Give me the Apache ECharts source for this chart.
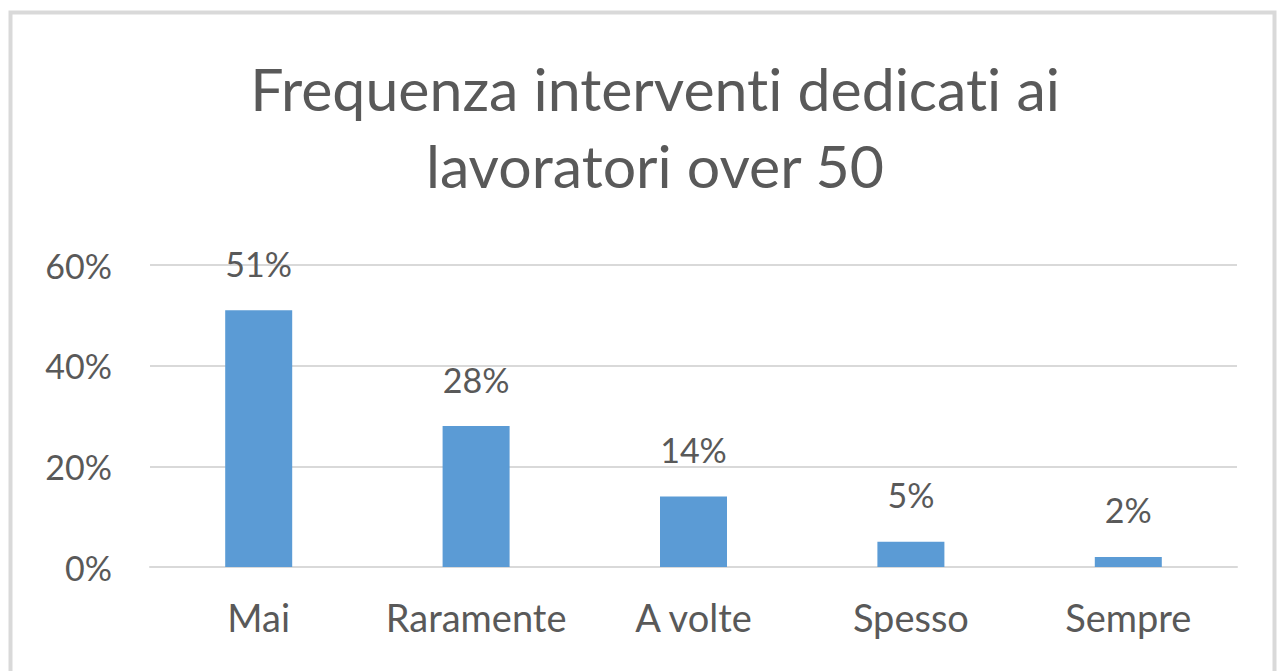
<!DOCTYPE html>
<html>
<head>
<meta charset="utf-8">
<script src="https://cdn.jsdelivr.net/npm/echarts@6/dist/echarts.min.js"></script>
<style>
  html, body { margin: 0; padding: 0; background: #ffffff; }
  #chart { width: 1277px; height: 671px; }
  #chart text { font-variant-ligatures: none; font-feature-settings: "liga" 0; }
</style>
</head>
<body>
<div id="chart"></div>
<script>
// Survey answers: how often companies run initiatives for workers over 50
const categories = ['Mai', 'Raramente', 'A volte', 'Spesso', 'Sempre'];
const shares = [51, 28, 14, 5, 2];
const yTicks = [0, 20, 40, 60];
const titleLines = ['Frequenza interventi dedicati ai', 'lavoratori over 50'];

const FONT = 'Lato';
const TEXT = '#595959';

const chart = echarts.init(document.getElementById('chart'), null, { renderer: 'svg' });

chart.setOption({
  animation: false,
  backgroundColor: '#ffffff',
  textStyle: { fontFamily: FONT },
  title: {
    text: titleLines.join('\n'),
    left: 650,
    top: 45,
    textAlign: 'center',
    textStyle: {
      fontFamily: FONT,
      fontSize: 59,
      fontWeight: 'normal',
      color: TEXT,
      lineHeight: 77
    }
  },
  graphic: [{
    type: 'rect',
    shape: { x: 10.5, y: 12.5, width: 1264, height: 700 },
    style: { fill: 'none', stroke: '#d9d9d9', lineWidth: 4 },
    silent: true
  }],
  grid: { left: 150, right: 40, top: 265, bottom: 104, containLabel: false },
  xAxis: {
    type: 'category',
    data: categories,
    axisLine: { show: true, lineStyle: { color: '#d9d9d9', width: 2 } },
    axisTick: { show: false },
    axisLabel: { color: TEXT, fontFamily: FONT, fontSize: 38, margin: 31, interval: 0 }
  },
  yAxis: {
    type: 'value',
    min: yTicks[0],
    max: yTicks[yTicks.length - 1],
    interval: yTicks[1] - yTicks[0],
    axisLine: { show: false },
    axisTick: { show: false },
    splitLine: { lineStyle: { color: '#d9d9d9', width: 2 } },
    axisLabel: {
      color: TEXT, fontFamily: FONT, fontSize: 34, margin: 38,
      formatter: v => v + '%'
    }
  },
  series: [{
    type: 'bar',
    data: shares,
    barWidth: 67,
    itemStyle: { color: '#5b9bd5' },
    label: {
      show: true,
      position: 'top',
      distance: 30,
      color: TEXT,
      fontFamily: FONT,
      fontSize: 34,
      formatter: p => p.value + '%'
    }
  }]
});
</script>
</body>
</html>
